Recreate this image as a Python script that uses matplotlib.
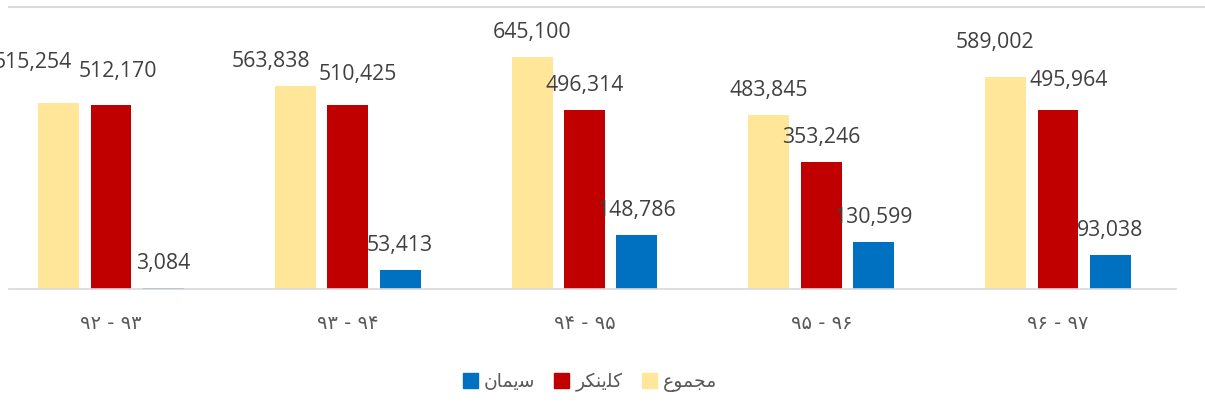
import matplotlib
matplotlib.use('Agg')
import matplotlib.pyplot as plt
from matplotlib.patches import Patch
from matplotlib.lines import Line2D
import numpy as np

# Persian year ranges (Extended Arabic-Indic digits)
categories = ['\u06f9\u06f2 - \u06f9\u06f3', '\u06f9\u06f3 - \u06f9\u06f4',
              '\u06f9\u06f4 - \u06f9\u06f5', '\u06f9\u06f5 - \u06f9\u06f6',
              '\u06f9\u06f6 - \u06f9\u06f7']
total = [515254, 563838, 645100, 483845, 589002]
clinker = [512170, 510425, 496314, 353246, 495964]
cement = [3084, 53413, 148786, 130599, 93038]

# legend labels: shaped presentation forms, reversed by hand (no bidi lib)
lbl_total = '\ufec9\ufeee\ufee4\ufea0\ufee3'            # مجموع
lbl_clinker = '\ufeae\ufb91\ufee8\ufbfe\ufee0\ufb90'    # کلینکر
lbl_cement = '\ufee5\ufe8e\ufee4\ufbfe\ufeb3'           # سیمان

c_total = '#FFE699'
c_clinker = '#C00000'
c_cement = '#0070C0'

W, H = 1205, 413
fig = plt.figure(figsize=(W / 100, H / 100), dpi=100)
# plot area is partly cut off on the left in the original
ax = fig.add_axes([-7.4 / W, (H - 289) / H, 1183.8 / W, 269 / H])

x = np.arange(len(categories))
bw = 0.173
off = 0.221
series = [(total, c_total, -off), (clinker, c_clinker, 0.0), (cement, c_cement, off)]
for vals, col, dx in series:
    ax.bar(x + dx, vals, width=bw, color=col, zorder=2)

ax.set_xlim(-0.5, 4.5)
ax.set_ylim(0, 747000)

# data labels; a few were dragged by hand in the original (pixel offsets)
moved = {(0, 0): (-25.5, 41), (1, 0): (7, 33), (0, 1): (-24.5, 24),
         (1, 1): (10.5, 31), (0, 4): (-11, 34), (1, 4): (11, 30)}
for s, (vals, col, dx) in enumerate(series):
    for i, v in enumerate(vals):
        ox, oy = moved.get((s, i), (0, 24.5))
        ax.annotate(f'{v:,}', (x[i] + dx, v), xytext=(ox, oy),
                    textcoords='offset pixels', ha='center', va='center',
                    fontsize=15.3, color='#404040', family='Open Sans',
                    annotation_clip=False)

ax.set_xticks(x)
ax.set_xticklabels(categories, fontsize=14, color='#595959', family=['DejaVu Sans'])
ax.tick_params(axis='x', length=0, pad=18)
ax.set_yticks([])
for sp in ax.spines.values():
    sp.set_visible(False)
ax.plot([-0.431, 4.5], [0, 0], color='#d9d9d9', lw=1.2, clip_on=False, zorder=3)

# chart border line at the top
fig.add_artist(Line2D([9 / W, 1], [1 - 7 / H, 1 - 7 / H], color='#d9d9d9', lw=1.5))

handles = [Patch(color=c_cement), Patch(color=c_clinker), Patch(color=c_total)]
fig.legend(handles, [lbl_cement, lbl_clinker, lbl_total], loc='center',
           bbox_to_anchor=(590 / W, 1 - 382 / H), ncol=3, frameon=False,
           handlelength=0.8, handleheight=0.8, handletextpad=0.35, columnspacing=1.0,
           prop={'family': ['DejaVu Sans'], 'size': 13.5}, labelcolor='#595959')

fig.savefig('out.png', dpi=100)
